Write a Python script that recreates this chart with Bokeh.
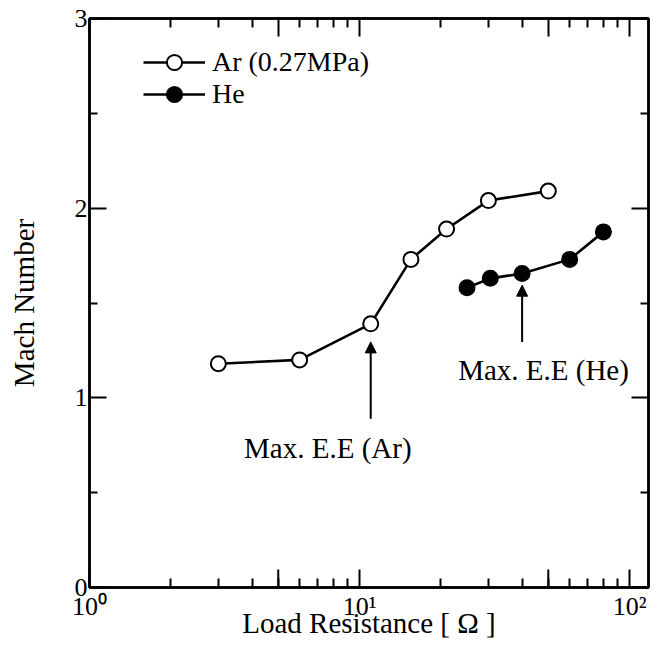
from bokeh.plotting import figure
from bokeh.models import (LogAxis, LinearAxis, FixedTicker, CustomJSTickFormatter,
                          Legend, LegendItem, Arrow, NormalHead, Label)
from bokeh.embed import file_html
from bokeh.resources import INLINE

# ---- data ----
ar_r = [3, 6, 11, 15.5, 21, 30, 50]
ar_m = [1.18, 1.20, 1.39, 1.73, 1.89, 2.04, 2.09]
he_r = [25, 30.5, 40, 60, 80]
he_m = [1.58, 1.63, 1.655, 1.73, 1.875]

x_major = [1, 10, 100]
x_mid = [5, 50]
x_minor = [2, 3, 4, 6, 7, 8, 9, 20, 30, 40, 60, 70, 80, 90]
y_major = [0, 1, 2, 3]
y_minor = [0.5, 1.5, 2.5]

ann_ar = {"x": 11, "y0": 0.89, "y1": 1.295, "tx": 7.63, "ty": 0.733, "text": "Max. E.E (Ar)"}
ann_he = {"x": 40, "y0": 1.295, "y1": 1.594, "tx": 48.0, "ty": 1.145, "text": "Max. E.E (He)"}

FONT = "Liberation Serif"
TXT = "29px"

p = figure(width=657, height=659, x_axis_type="log", x_range=(1, 117.5), y_range=(0, 3),
           output_backend="svg", toolbar_location=None,
           min_border_left=89, min_border_right=9, min_border_top=18, min_border_bottom=72,
           x_axis_label="Load Resistance [ Ω ]", y_axis_label="Mach Number")
p.background_fill_color = "white"
p.border_fill_color = "white"
p.outline_line_color = "black"
p.outline_line_width = 2.5
p.xgrid.visible = False
p.ygrid.visible = False

xt = FixedTicker(ticks=x_major, minor_ticks=x_mid + x_minor)
xt_top = FixedTicker(ticks=x_major + x_mid, minor_ticks=x_minor)
yt = FixedTicker(ticks=y_major, minor_ticks=y_minor)
xfmt = CustomJSTickFormatter(code="""
const e = Math.round(Math.log10(tick));
const sup = ["\u2070", "\u00b9", "\u00b2", "\u00b3"];
return "10" + sup[e];
""")

def style(ax, labels=True):
    ax.axis_line_width = 2.5
    ax.axis_line_color = "black"
    ax.major_tick_line_width = 2
    ax.minor_tick_line_width = 2
    ax.major_tick_out = 0
    ax.minor_tick_out = 0
    ax.major_label_text_font = FONT
    ax.major_label_text_font_size = "26px"
    ax.major_label_text_color = "black" if labels else None
    ax.axis_label_text_font = FONT
    ax.axis_label_text_font_size = TXT
    ax.axis_label_text_font_style = "normal"
    ax.axis_label_text_color = "black"

xa = p.xaxis[0]
xa.ticker = xt
xa.formatter = xfmt
style(xa)
xa.major_tick_in = 18
xa.minor_tick_in = 9
xa.major_label_standoff = 4
xa.axis_label_standoff = -17

ya = p.yaxis[0]
ya.ticker = yt
style(ya)
ya.major_tick_in = 17
ya.minor_tick_in = 8
ya.major_label_standoff = 2
ya.axis_label_standoff = 32

top = LogAxis(ticker=xt_top, formatter=xfmt)
style(top, labels=False)
top.major_tick_in = 18
top.minor_tick_in = 9
top.major_label_standoff = 0
p.add_layout(top, "above")

right = LinearAxis(ticker=yt)
style(right, labels=False)
right.major_tick_in = 17
right.minor_tick_in = 8
right.major_label_standoff = 0
p.add_layout(right, "right")

# longer ticks at 5 and 50 on the bottom axis
p.segment(x0=x_mid, y0=[0] * len(x_mid), x1=x_mid, y1=[0.095] * len(x_mid),
          line_color="black", line_width=2)

# ---- series ----
ar_line = p.line(ar_r, ar_m, line_color="black", line_width=2.6)
ar_sc = p.scatter(ar_r, ar_m, marker="circle", size=15, fill_color="white",
                  line_color="black", line_width=2)
he_line = p.line(he_r, he_m, line_color="black", line_width=2.6)
he_sc = p.scatter(he_r, he_m, marker="circle", size=15, fill_color="black",
                  line_color="black", line_width=2)

def make_legend(label, renderers, loc):
    lg = Legend(items=[LegendItem(label=label, renderers=renderers)], location=loc)
    lg.padding = 0
    lg.spacing = 0
    lg.margin = 0
    lg.glyph_width = 62
    lg.glyph_height = 38
    lg.label_height = 30
    lg.label_standoff = 7
    lg.label_text_font = FONT
    lg.label_text_font_size = "28px"
    lg.label_text_color = "black"
    lg.border_line_alpha = 0
    lg.background_fill_alpha = 0
    p.add_layout(lg)

make_legend("Ar (0.27MPa)", [ar_line, ar_sc], (54, 506))
make_legend("He", [he_line, he_sc], (54, 474))

for a in (ann_ar, ann_he):
    p.add_layout(Arrow(x_start=a["x"], y_start=a["y0"], x_end=a["x"], y_end=a["y1"],
                       line_color="black", line_width=2,
                       end=NormalHead(size=11, fill_color="black", line_color="black", line_width=1)))
    p.add_layout(Label(x=a["tx"], y=a["ty"], text=a["text"], text_align="center",
                       text_baseline="alphabetic", text_font=FONT, text_font_size=TXT,
                       text_color="black"))

open("out.html", "w").write(file_html(p, INLINE))
